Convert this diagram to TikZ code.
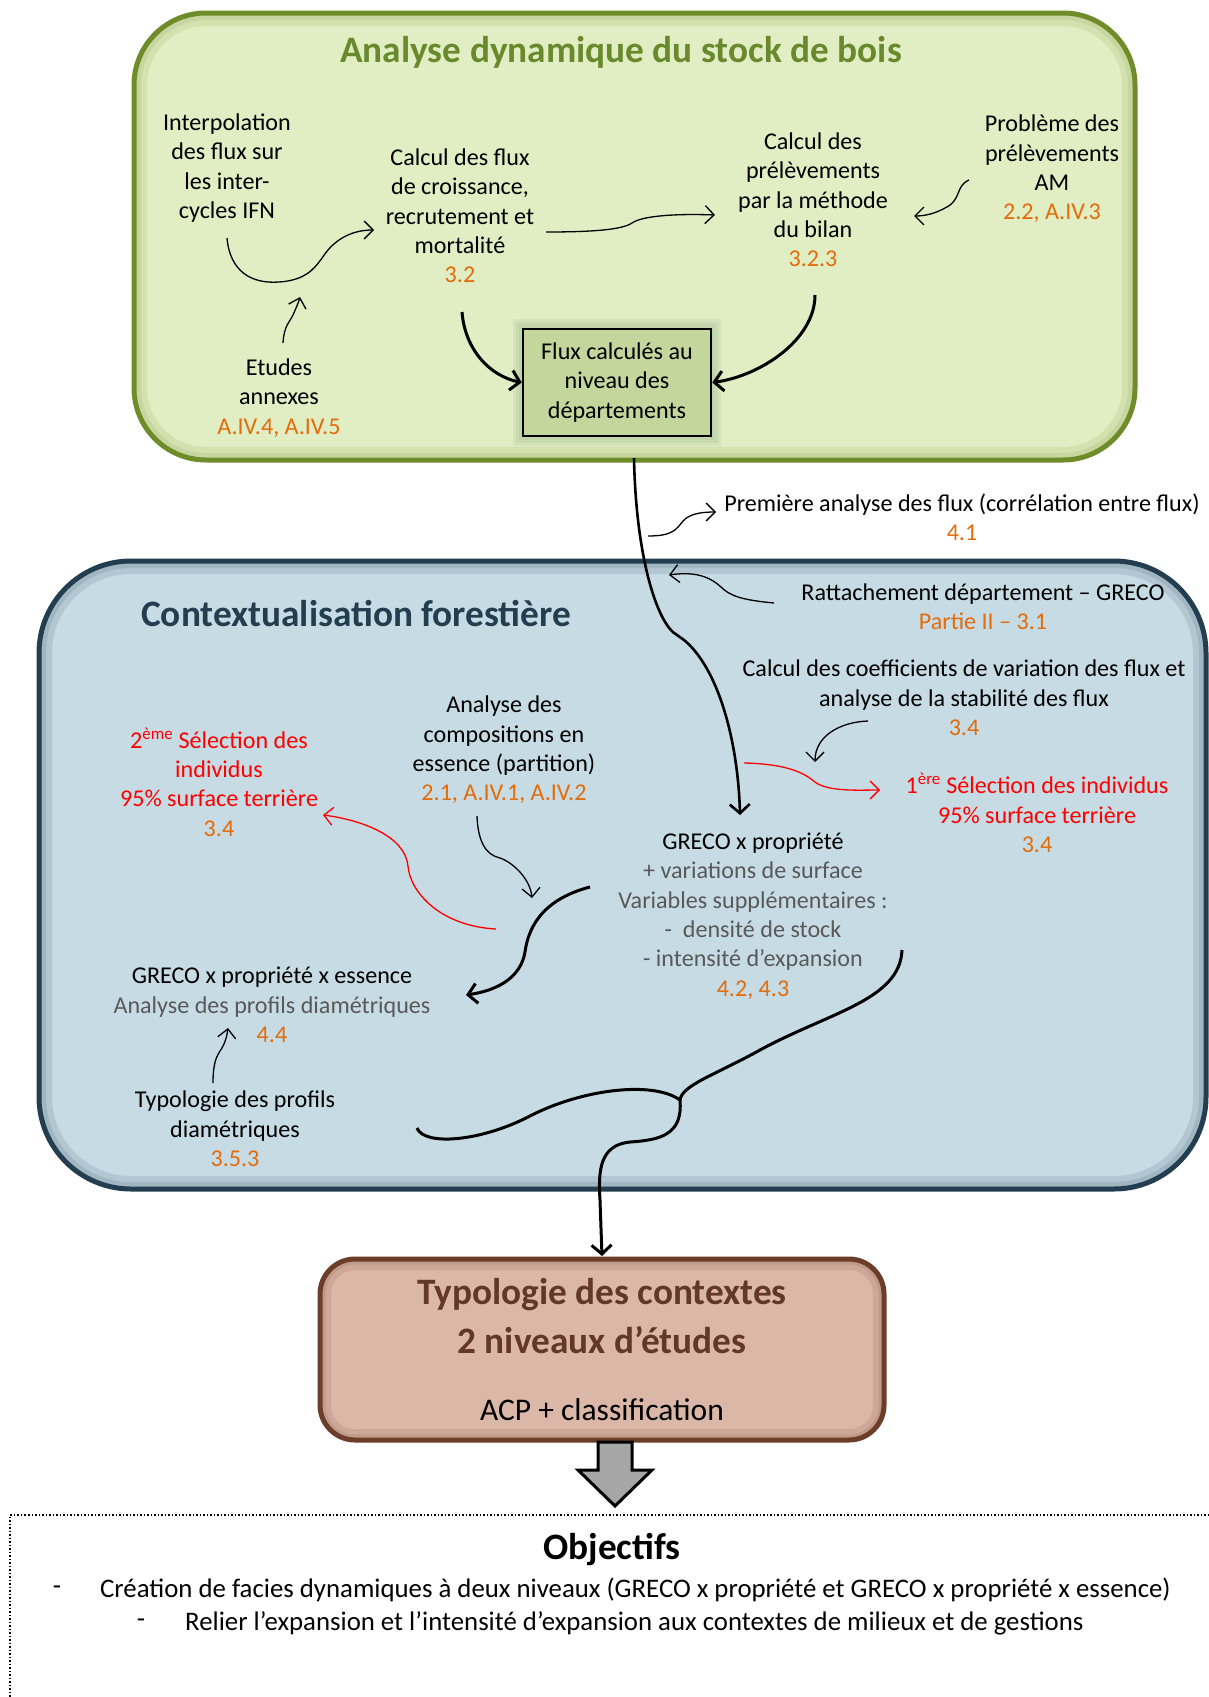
\documentclass[tikz,border=0pt]{standalone}
\usepackage{fontspec}
\setmainfont{Carlito}
\usetikzlibrary{arrows.meta}
\definecolor{ora}{RGB}{228,108,10}
\definecolor{grnB}{RGB}{110,140,40}
\definecolor{grnF}{RGB}{225,237,194}
\definecolor{grnT}{RGB}{104,138,45}
\definecolor{fluxF}{RGB}{195,214,155}
\definecolor{bluB}{RGB}{35,62,80}
\definecolor{bluF}{RGB}{198,219,227}
\definecolor{bluT}{RGB}{35,62,80}
\definecolor{brnB}{RGB}{108,62,42}
\definecolor{brnF}{RGB}{219,183,168}
\definecolor{brnT}{RGB}{99,56,38}
\definecolor{gtx}{RGB}{89,89,89}
\definecolor{arrG}{RGB}{166,166,166}
\begin{document}
\begin{tikzpicture}[x=1pt,y=-1pt,
  txt/.style={align=center,inner sep=0pt,font=\fontsize{24.1}{29.3}\selectfont},
  ttl/.style={inner sep=0pt,font=\bfseries\fontsize{37.3}{44}\selectfont},
  thinarr/.style={line width=1.3pt,-{Straight Barb[length=9pt,width=18pt]}},
  thickarr/.style={line width=3pt,-{Straight Barb[length=9pt,width=20pt]}},
  redarr/.style={red,line width=1.3pt,-{Straight Barb[length=9pt,width=18pt]}},
  glow/.style={line width=#1,opacity=0.12}]
\useasboundingbox (0,0) rectangle (1209,1697);
\fill[white] (0,0) rectangle (1209,1697);

% ---------- green box
\fill[grnF,rounded corners=72pt] (134,13) rectangle (1135,460);
\begin{scope}
\clip[rounded corners=72pt] (134,13) rectangle (1135,460);
\draw[grnB,glow=26pt,rounded corners=72pt] (134,13) rectangle (1135,460);
\draw[grnB,glow=14pt,rounded corners=72pt] (134,13) rectangle (1135,460);
\end{scope}
\draw[grnB,line width=5pt,rounded corners=72pt] (134,13) rectangle (1135,460);
\node[ttl,text=grnT] (t1) at (621,52) {Analyse dynamique du stock de bois};

% ---------- flux box with glow
\foreach \g in {10,7,4}{\fill[black!70!green!50,opacity=0.13] (523-\g,329-\g) rectangle (711+\g,436+\g);}
\node[draw=black,line width=2.5pt,fill=fluxF,minimum width=188pt,minimum height=107pt,align=center,inner sep=0pt,font=\fontsize{24.1}{29.3}\selectfont] (flux) at (617,382.5) {Flux calculés au\\niveau des\\départements};

\node[txt] (interp) at (227,168) {Interpolation\\des flux sur\\les inter-\\cycles IFN};
\node[txt] (cflux) at (460,216) {Calcul des flux\\de croissance,\\recrutement et\\mortalité\\\textcolor{ora}{3.2}};
\node[txt] (cprel) at (813,200) {Calcul des\\prélèvements\\par la méthode\\du bilan\\\textcolor{ora}{3.2.3}};
\node[txt] (prob) at (1052,169) {Problème des\\prélèvements\\AM\\\textcolor{ora}{2.2, A.IV.3}};
\node[txt] (etud) at (279,398) {Etudes\\annexes\\\textcolor{ora}{A.IV.4, A.IV.5}};

% arrows top
\coordinate (a1s) at (227,238); \coordinate (a1e) at (374,230);
\draw[thinarr] (a1s) .. controls (230,272) and (252,284) .. (279,282) .. controls (312,280) and (318,262) .. (328,250) .. controls (340,236) and (356,230) .. (a1e);
\coordinate (a2s) at (283,343); \coordinate (a2e) at (300,297);
\draw[thinarr] (a2s) .. controls (284,325) and (290,322) .. (293,315) .. controls (296,308) and (298,304) .. (a2e);
\coordinate (a3s) at (546,232); \coordinate (a3e) at (715,215);
\draw[thinarr] (a3s) .. controls (590,232) and (622,230) .. (632,223) .. controls (645,214) and (690,214) .. (a3e);
\coordinate (a4s) at (969,180); \coordinate (a4e) at (914,216);
\draw[thinarr] (a4s) .. controls (955,186) and (962,200) .. (945,208) .. controls (936,213) and (926,216) .. (a4e);
\coordinate (a5s) at (462,312);
\draw[thickarr] (a5s) .. controls (465,350) and (490,376) .. (flux.west);
\coordinate (a6s) at (815,295);
\draw[thickarr] (a6s) .. controls (815,340) and (760,376) .. (flux.east);

% ---------- blue box
\fill[bluF,rounded corners=92pt] (39,561) rectangle (1206,1189);
\begin{scope}
\clip[rounded corners=92pt] (39,561) rectangle (1206,1189);
\draw[bluB,glow=26pt,rounded corners=92pt] (39,561) rectangle (1206,1189);
\draw[bluB,glow=14pt,rounded corners=92pt] (39,561) rectangle (1206,1189);
\end{scope}
\draw[bluB,line width=5pt,rounded corners=92pt] (39,561) rectangle (1206,1189);
\node[ttl,text=bluT,anchor=west] (t2) at (141,614) {Contextualisation forestière};

\node[txt] (prem) at (962,517.5) {Première analyse des flux (corrélation entre flux)\\\textcolor{ora}{4.1}};
\node[txt] (ratt) at (983,607) {Rattachement département – GRECO\\\textcolor{ora}{Partie II – 3.1}};
\node[txt] (coef) at (964,698) {Calcul des coefficients de variation des flux et\\analyse de la stabilité des flux\\\textcolor{ora}{3.4}};
\node[txt,text=red] (sel1) at (1037,813) {1\textsuperscript{ère} Sélection des individus\\95\% surface terrière\\\textcolor{ora}{3.4}};
\node[txt,text=red] (sel2) at (219,782) {2\textsuperscript{ème} Sélection des\\individus\\95\% surface terrière\\\textcolor{ora}{3.4}};
\node[txt] (anal) at (504,750) {Analyse des\\compositions en\\essence (partition)\\\textcolor{ora}{2.1, A.IV.1, A.IV.2}};
\node[txt] (greco) at (753,916) {GRECO x propriété\\\textcolor{gtx}{+ variations de surface}\\\textcolor{gtx}{Variables supplémentaires :}\\\textcolor{gtx}{-\ \ densité de stock}\\\textcolor{gtx}{- intensité d’expansion}\\\textcolor{ora}{4.2, 4.3}};
\node[txt] (gess) at (272,1005) {GRECO x propriété x essence\\\textcolor{gtx}{Analyse des profils diamétriques}\\\textcolor{ora}{4.4}};
\node[txt] (typo) at (235,1129) {Typologie des profils\\diamétriques\\\textcolor{ora}{3.5.3}};

% main arrow
\coordinate (ms) at (634,458); \coordinate (me) at (740,815);
\draw[thickarr,line width=2.6pt] (ms) .. controls (636,560) and (658,625) .. (677,635) -- (684,640) .. controls (718,668) and (738,740) .. (me);
\coordinate (a7s) at (648,536); \coordinate (a7e) at (716,512);
\draw[thinarr] (a7s) .. controls (672,536) and (676,530) .. (683,521) .. controls (690,513) and (704,512) .. (a7e);
\coordinate (a8s) at (774,603); \coordinate (a8e) at (669,575);
\draw[thinarr] (a8s) .. controls (742,600) and (730,596) .. (721,587) .. controls (707,574) and (690,572) .. (a8e);
\coordinate (a9s) at (868,721); \coordinate (a9e) at (815,762);
\draw[thinarr] (a9s) .. controls (840,722) and (815,736) .. (a9e);
\coordinate (a10s) at (744,763); \coordinate (a10e) at (880,790);
\draw[redarr] (a10s) .. controls (790,764) and (805,774) .. (815,782) .. controls (828,792) and (860,790) .. (a10e);
\coordinate (a11s) at (496,929); \coordinate (a11e) at (323,815);
\draw[redarr] (a11s) .. controls (440,926) and (410,892) .. (408,866) .. controls (405,836) and (362,820) .. (a11e);
\coordinate (a12s) at (477,816); \coordinate (a12e) at (532,898);
\draw[thinarr] (a12s) .. controls (478,842) and (486,855) .. (500,858) .. controls (512,862) and (530,878) .. (a12e);
\coordinate (a13s) at (590,887); \coordinate (a13e) at (466,995);
\draw[thickarr] (a13s) .. controls (540,900) and (528,930) .. (525,952) .. controls (521,976) and (500,990) .. (a13e);
\coordinate (a14s) at (213,1083); \coordinate (a14e) at (228,1028);
\draw[thinarr] (a14s) .. controls (213,1062) and (217,1056) .. (220,1051) .. controls (225,1044) and (227,1036) .. (a14e);

% junction curves
\coordinate (p1s) at (902,950); \coordinate (jn) at (680,1100); \coordinate (p2s) at (417,1128);
\draw[line width=3pt] (p1s) .. controls (900,1000) and (830,1012) .. (760,1050) .. controls (715,1075) and (682,1085) .. (jn);
\draw[line width=3pt] (p2s) .. controls (424,1146) and (480,1142) .. (530,1116) .. controls (580,1090) and (652,1080) .. (jn);

% ---------- brown box
\fill[brnF,rounded corners=35pt] (320,1259) rectangle (884,1440);
\begin{scope}
\clip[rounded corners=35pt] (320,1259) rectangle (884,1440);
\draw[brnB,glow=22pt,rounded corners=35pt] (320,1259) rectangle (884,1440);
\draw[brnB,glow=11pt,rounded corners=35pt] (320,1259) rectangle (884,1440);
\end{scope}
\draw[brnB,line width=5pt,rounded corners=35pt] (320,1259) rectangle (884,1440);
\node[ttl,text=brnT] (b1) at (602,1295) {Typologie des contextes};
\node[ttl,text=brnT] (b2) at (602,1340) {2 niveaux d’études};
\node[txt,font=\fontsize{31.5}{36}\selectfont] (b3) at (602,1410) {ACP + classification};
\coordinate (brtop) at (602,1256);

\draw[thickarr] (jn) .. controls (683,1135) and (660,1140) .. (630,1142) .. controls (600,1145) and (598,1170) .. (600,1200) -- (brtop);

% big gray arrow
\draw[line width=3pt,fill=arrG,line join=miter] (598,1442) -- (632,1442) -- (632,1470) -- (652,1470) -- (615,1506) -- (578,1470) -- (598,1470) -- cycle;

% ---------- objectives
\draw[line width=1.5pt,dotted] (1230,1515) -- (10,1515) -- (10,1720);
\node[ttl] (obj) at (612,1550) {Objectifs};
\node[txt,font=\fontsize{26.8}{32}\selectfont] (d1) at (57,1590) {-};
\node[txt,font=\fontsize{26.8}{32}\selectfont,anchor=west] (l1) at (100,1590) {Création de facies dynamiques à deux niveaux (GRECO x propriété et GRECO x propriété x essence)};
\node[txt,font=\fontsize{26.8}{32}\selectfont] (d2) at (141,1623) {-};
\node[txt,font=\fontsize{26.8}{32}\selectfont,anchor=west] (l2) at (185,1623) {Relier l’expansion et l’intensité d’expansion aux contextes de milieux et de gestions};
\end{tikzpicture}
\end{document}
